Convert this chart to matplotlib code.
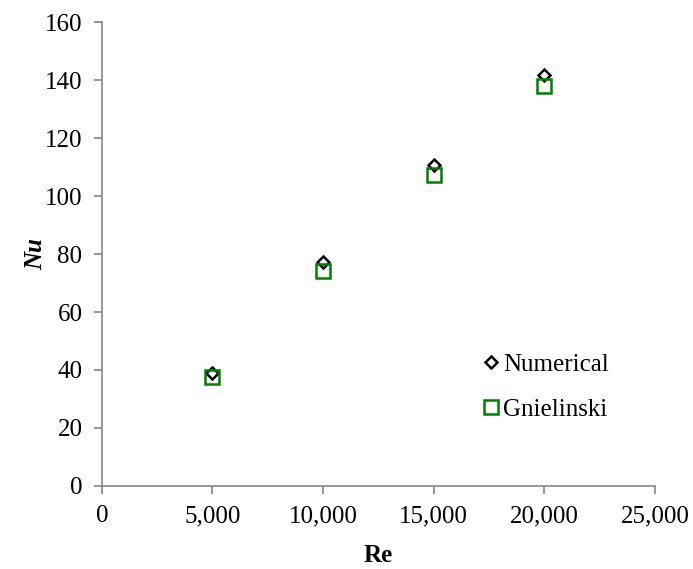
import matplotlib
matplotlib.use("Agg")
from matplotlib import pyplot as plt
from matplotlib.ticker import FuncFormatter

re_vals = [5000, 10000, 15000, 20000]
nu_numerical = [39.0, 77.3, 110.6, 141.8]
nu_gnielinski = [37.6, 74.3, 107.2, 137.9]

plt.rcParams['font.family'] = ['Liberation Serif', 'DejaVu Serif']
plt.rcParams['font.size'] = 18

fig = plt.figure(figsize=(6.93, 5.69), dpi=100)
ax = fig.add_axes([0.147, 0.146, 0.798, 0.815])

ax.plot(re_vals, nu_numerical, linestyle='none', marker='D', markersize=6.5,
        markerfacecolor='white', markeredgecolor='black', markeredgewidth=1.8,
        label='Numerical', zorder=3)
ax.plot(re_vals, nu_gnielinski, linestyle='none', marker='s', markersize=10,
        markerfacecolor='none', markeredgecolor='#008000', markeredgewidth=1.8,
        label='Gnielinski', zorder=4)

ax.set_xlim(0, 25000)
ax.set_ylim(0, 160)
ax.set_xticks(range(0, 25001, 5000))
ax.set_yticks(range(0, 161, 20))
ax.xaxis.set_major_formatter(FuncFormatter(lambda v, p: f"{int(v):,}"))

for side in ('top', 'right'):
    ax.spines[side].set_visible(False)
for side in ('left', 'bottom'):
    ax.spines[side].set_color('#868686')
    ax.spines[side].set_linewidth(1.2)
ax.tick_params(direction='out', length=6, width=1.2, color='#868686',
               labelsize=18, pad=8)

ax.set_xlabel('Re', fontweight='bold', fontsize=18, labelpad=12)
ax.set_ylabel('Nu', fontweight='bold', fontstyle='italic', fontsize=18, labelpad=-2)

ax.legend(loc='upper left', bbox_to_anchor=(0.64, 0.335), frameon=False,
          handletextpad=0.0, handlelength=1.0, labelspacing=0.9, fontsize=18)

fig.savefig('out.png', dpi=100)
